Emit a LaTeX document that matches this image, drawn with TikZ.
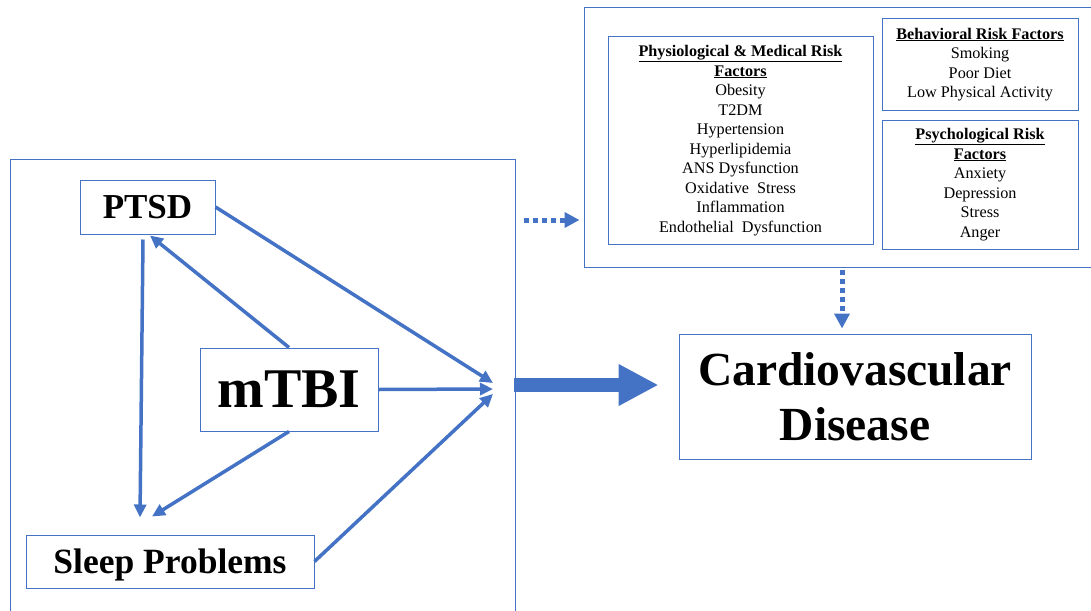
\documentclass[tikz,border=0pt]{standalone}
\usepackage{fontspec}
\setmainfont{Liberation Serif}
\usetikzlibrary{arrows.meta}
\definecolor{bblue}{RGB}{68,114,196}
\tikzset{
  box/.style={draw=bblue, line width=1pt, inner sep=0pt, align=center},
  risktext/.style={font=\fontsize{16.2}{19.5}\selectfont},
  bigtext/.style={font=\fontsize{35.5}{40}\selectfont\bfseries},
  thinarrow/.style={draw=bblue, line width=3.5pt, -{Triangle[length=13pt,width=12pt]}},
  dotarrow/.style={draw=bblue, line width=5pt, dash pattern=on 4.5pt off 4.5pt, -{Triangle[length=15pt,width=15pt]}},
  fatarrow/.style={draw=bblue, line width=14pt, -{Triangle[length=40pt,width=39pt]}}
}
\newcommand{\hd}[1]{\textbf{\underline{#1}}}
\begin{document}
\begin{tikzpicture}[x=1pt,y=-1pt]
\useasboundingbox (0,0) rectangle (1091,610);
\clip (0,0) rectangle (1091,610);

% outer frames
\node[box, minimum width=505pt, minimum height=461pt] (left) at (262.5,389.5) {};
\node[box, minimum width=516pt, minimum height=259pt] (risk) at (842,137.5) {};

% risk factor boxes
\node[box, risktext, minimum width=265pt, minimum height=207pt] (phys) at (740.5,140.5)
  {\hd{Physiological \& Medical Risk}\\\hd{Factors}\\Obesity\\T2DM\\Hypertension\\Hyperlipidemia\\ANS Dysfunction\\Oxidative\ \ Stress\\Inflammation\\Endothelial\ \ Dysfunction};
\node[box, risktext, minimum width=196pt, minimum height=91pt] (behav) at (980,64.5)
  {\hd{Behavioral Risk Factors}\\Smoking\\Poor Diet\\Low Physical Activity};
\node[box, risktext, minimum width=196pt, minimum height=129pt] (psych) at (980,184.5)
  {\hd{Psychological Risk}\\\hd{Factors}\\Anxiety\\Depression\\Stress\\Anger};

% main nodes
\node[box, font=\fontsize{35}{40}\selectfont\bfseries, minimum width=135pt, minimum height=54pt] (ptsd) at (147.5,207) {PTSD};
\node[box, font=\fontsize{56}{60}\selectfont\bfseries, minimum width=178pt, minimum height=83pt] (mtbi) at (289,389.5) {mTBI};
\node[box, bigtext, text depth=0pt, minimum width=288pt, minimum height=53pt] (sleep) at (170,561.5) {Sleep Problems};
\node[box, font=\fontsize{47.5}{55}\selectfont\bfseries, minimum width=352pt, minimum height=125pt] (cvd) at (855,396.5) {Cardiovascular\\Disease};

% convergence coordinates
\coordinate (c1) at (493,383);
\coordinate (c2) at (493,389);
\coordinate (c3) at (493,394);
\coordinate (fatstart) at (514,385);
\coordinate (dotstart) at (524,220);
\coordinate (vdot) at (842,270);

% thin arrows
\draw[thinarrow] (ptsd.east) -- (c1);
\draw[thinarrow] (mtbi.east) -- (c2);
\draw[thinarrow] (sleep.east) -- (c3);
\draw[thinarrow] (mtbi.north) -- ([xshift=2.5pt,yshift=-1pt]ptsd.south);
\draw[thinarrow] ([xshift=-4.5pt,yshift=-5pt]ptsd.south) -- ([xshift=-30pt,yshift=17pt]sleep.north);
\draw[thinarrow] (mtbi.south) -- ([xshift=-18pt,yshift=18pt]sleep.north);

% thick and dotted arrows
\draw[fatarrow] (fatstart) -- ([xshift=-20pt]cvd.west |- fatstart);
\draw[dotarrow] (dotstart) -- ([xshift=-4pt]risk.west |- dotstart);
\draw[dotarrow] (vdot) -- ([yshift=5pt]cvd.north -| vdot);
\end{tikzpicture}
\end{document}
